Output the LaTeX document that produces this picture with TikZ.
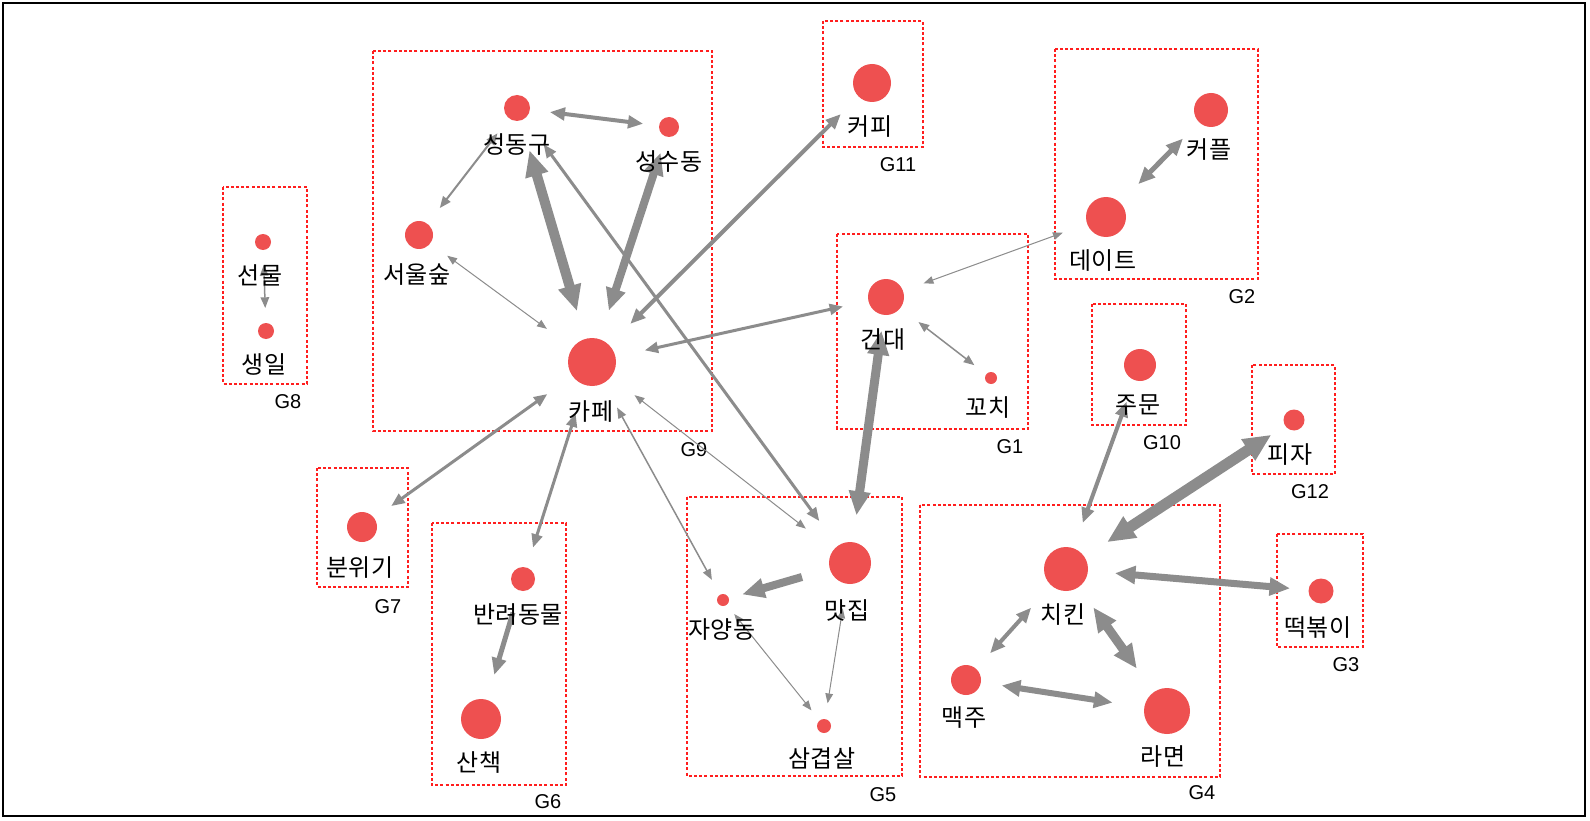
\documentclass[tikz,border=0pt]{standalone}
\usepackage{fontspec}
\usetikzlibrary{arrows.meta}
\newfontfamily\kr{Noto Sans CJK KR}
\newfontfamily\lat{Liberation Sans}
\definecolor{dotred}{RGB}{255,30,30}
\definecolor{nodered}{RGB}{238,80,80}
\definecolor{edgegray}{RGB}{140,140,140}
\tikzset{
  dot/.style={circle, fill=nodered, draw=none, inner sep=0pt, minimum size=#1},
  lab/.style={font=\kr\fontsize{24}{24}\selectfont, inner sep=0pt},
  glab/.style={font=\lat\fontsize{20}{20}\selectfont, inner sep=0pt},
  grp/.style={draw=dotred, line width=1.6pt, dash pattern=on 3pt off 2.2pt},
  edge/.style={draw=edgegray, line width=#1, <->},
  oneway/.style={draw=edgegray, line width=#1, ->},
  >={Triangle[length=8pt 1.8, width=6pt 1.6]}
}
\begin{document}
\begin{tikzpicture}[x=1pt,y=-1pt]
\useasboundingbox (0,0) rectangle (1590,821);
\fill[white] (0,0) rectangle (1590,821);
\draw[black, line width=2pt] (3,3) rectangle (1585,816);

% group boxes
\draw[grp] (373,51) rectangle (712,431);
\draw[grp] (823,21) rectangle (923,147);
\draw[grp] (1055,49) rectangle (1258,279);
\draw[grp] (837,234) rectangle (1028,429);
\draw[grp] (1092,304) rectangle (1186,425);
\draw[grp] (1252,365) rectangle (1335,474);
\draw[grp] (1277,534) rectangle (1363,647);
\draw[grp] (920,505) rectangle (1220,777);
\draw[grp] (687,497) rectangle (902,776);
\draw[grp] (432,523) rectangle (566,785);
\draw[grp] (317,468) rectangle (408,587);
\draw[grp] (223,187) rectangle (307,384);

% group labels
\node[glab] (g11) at (898,165) {G11};
\node[glab] (g2) at (1242,297) {G2};
\node[glab] (g1) at (1010,447) {G1};
\node[glab] (g10) at (1162,443) {G10};
\node[glab] (g12) at (1310,492) {G12};
\node[glab] (g3) at (1346,665) {G3};
\node[glab] (g4) at (1202,793) {G4};
\node[glab] (g5) at (883,795) {G5};
\node[glab] (g6) at (548,802) {G6};
\node[glab] (g7) at (388,607) {G7};
\node[glab] (g8) at (288,402) {G8};
\node[glab] (g9) at (694,450) {G9};

% dots
\node[dot=26] (sdg) at (517,108) {};
\node[dot=20] (ssd) at (669,127) {};
\node[dot=28] (sus) at (419,235) {};
\node[dot=48] (cafe) at (592,362) {};
\node[dot=38] (coffee) at (872,83) {};
\node[dot=34] (couple) at (1211,110) {};
\node[dot=40] (date) at (1106,217) {};
\node[dot=36] (kd) at (886,297) {};
\node[dot=12] (kochi) at (991,378) {};
\node[dot=32] (order) at (1140,365) {};
\node[dot=21] (pizza) at (1294,420) {};
\node[dot=25] (tteok) at (1321,591) {};
\node[dot=44] (chicken) at (1066,569) {};
\node[dot=30] (beer) at (966,680) {};
\node[dot=46] (ramen) at (1167,711) {};
\node[dot=42] (matjip) at (850,563) {};
\node[dot=12] (jyd) at (723,600) {};
\node[dot=14] (sgs) at (824,726) {};
\node[dot=24] (pet) at (523,579) {};
\node[dot=40] (walk) at (481,719) {};
\node[dot=30] (mood) at (362,527) {};
\node[dot=16] (gift) at (263,242) {};
\node[dot=16] (bday) at (266,331) {};

% edges
\draw[edge=4pt, shorten <=33pt, shorten >=26pt] (sdg.center) -- (ssd.center);
\draw[edge=2pt, shorten <=32pt, shorten >=34pt] (sdg.center) -- (sus.center);
\draw[edge=10pt, shorten <=44pt, shorten >=53pt] (sdg.center) -- (cafe.center);
\draw[edge=8pt, shorten <=27pt, shorten >=54pt] (ssd.center) -- (cafe.center);
\draw[edge=1pt, shorten <=35pt, shorten >=56pt] (sus.center) -- (cafe.center);
\draw[edge=3pt, shorten <=45pt, shorten >=52pt] (sdg.center) -- (matjip.center);
\draw[edge=4pt, shorten <=44pt, shorten >=54pt] (coffee.center) -- (cafe.center);
\draw[edge=3pt, shorten <=44pt, shorten >=54pt] (kd.center) -- (cafe.center);
\draw[edge=3pt, shorten <=55pt, shorten >=36pt] (cafe.center) -- (mood.center);
\draw[edge=3pt, shorten <=54pt, shorten >=33pt] (cafe.center) -- (pet.center);
\draw[edge=1.5pt, shorten <=52pt, shorten >=23pt] (cafe.center) -- (jyd.center);
\draw[edge=1pt, shorten <=54pt, shorten >=56pt] (cafe.center) -- (matjip.center);
\draw[edge=9pt, shorten <=34pt, shorten >=48pt] (kd.center) -- (matjip.center);
\draw[edge=1.5pt, shorten <=41pt, shorten >=21pt] (kd.center) -- (kochi.center);
\draw[edge=1pt, shorten <=40pt, shorten >=46pt] (kd.center) -- (date.center);
\draw[edge=5pt, shorten <=46pt, shorten >=40pt] (date.center) -- (couple.center);
\draw[oneway=8pt, shorten <=50pt, shorten >=20pt] (matjip.center) -- (jyd.center);
\draw[edge=1pt, shorten <=18pt, shorten >=20pt] (jyd.center) -- (sgs.center);
\draw[edge=1pt, shorten <=46pt, shorten >=23pt] (matjip.center) -- (sgs.center);
\draw[oneway=5pt, shorten <=35pt, shorten >=46pt] (pet.center) -- (walk.center);
\draw[edge=4pt, shorten <=39pt, shorten >=49pt] (order.center) -- (chicken.center);
\draw[edge=11pt, shorten <=27pt, shorten >=49pt] (pizza.center) -- (chicken.center);
\draw[edge=7pt, shorten <=49pt, shorten >=31pt] (chicken.center) -- (tteok.center);
\draw[edge=4pt, shorten <=52pt, shorten >=36pt] (chicken.center) -- (beer.center);
\draw[edge=9pt, shorten <=47pt, shorten >=52pt] (chicken.center) -- (ramen.center);
\draw[edge=6pt, shorten <=36pt, shorten >=55pt] (beer.center) -- (ramen.center);
\draw[edge=1.5pt, shorten <=23pt, shorten >=23pt] (gift.center) -- (bday.center);

% labels
\node[lab] (l-sdg) at (517,145) {성동구};
\node[lab] (l-ssd) at (669,162) {성수동};
\node[lab] (l-sus) at (417,275) {서울숲};
\node[lab] (l-cafe) at (591,412) {카페};
\node[lab] (l-coffee) at (870,127) {커피};
\node[lab] (l-couple) at (1209,150) {커플};
\node[lab] (l-date) at (1103,261) {데이트};
\node[lab] (l-kd) at (883,340) {건대};
\node[lab] (l-kochi) at (988,408) {꼬치};
\node[lab] (l-order) at (1138,405) {주문};
\node[lab] (l-pizza) at (1290,455) {피자};
\node[lab] (l-tteok) at (1318,628) {떡볶이};
\node[lab] (l-chicken) at (1063,615) {치킨};
\node[lab] (l-beer) at (964,718) {맥주};
\node[lab] (l-ramen) at (1163,757) {라면};
\node[lab] (l-matjip) at (847,610) {맛집};
\node[lab] (l-jyd) at (722,630) {자양동};
\node[lab] (l-sgs) at (822,758) {삼겹살};
\node[lab] (l-pet) at (518,615) {반려동물};
\node[lab] (l-walk) at (479,763) {산책};
\node[lab] (l-mood) at (360,568) {분위기};
\node[lab] (l-gift) at (260,275) {선물};
\node[lab] (l-bday) at (264,364) {생일};
\end{tikzpicture}
\end{document}
